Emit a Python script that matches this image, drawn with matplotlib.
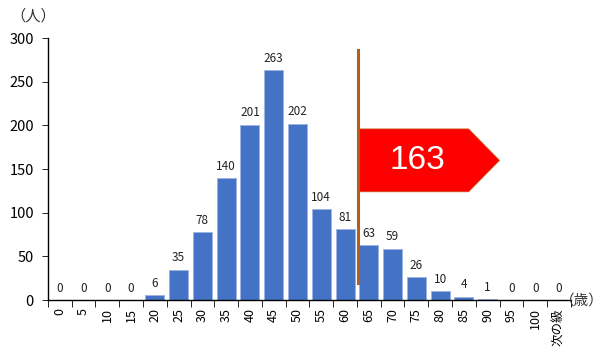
import matplotlib
matplotlib.use("Agg")
import matplotlib.pyplot as plt
from matplotlib.patches import Polygon
import numpy as np

plt.rcParams['font.family'] = ['Noto Sans CJK JP', 'DejaVu Sans']

# age classes (lower bound of each 5-year class) and head counts
classes = ['0', '5', '10', '15', '20', '25', '30', '35', '40', '45', '50',
           '55', '60', '65', '70', '75', '80', '85', '90', '95', '100', '次の級']
counts = [0, 0, 0, 0, 6, 35, 78, 140, 201, 263, 202,
          104, 81, 63, 59, 26, 10, 4, 1, 0, 0, 0]

marker_value = 163
marker_pos = 12.55   # between the 60 and 65 classes
marker_range = (20, 286)

fig = plt.figure(figsize=(6.06, 3.56), dpi=100)
ax = fig.add_axes([0.079, 0.157, 0.863, 0.736])

x = np.arange(len(classes))
ax.bar(x, counts, width=0.8, color='#4472C4', edgecolor='#9DB3E0', linewidth=0.6, zorder=2)
for xi, c in zip(x, counts):
    ax.text(xi, c + 6, str(c), ha='center', va='bottom', fontsize=8.5, color='#222222')

ax.set_xlim(-0.5, len(classes) - 0.5)
ax.set_ylim(0, 300)
ax.set_yticks(range(0, 301, 50))
ax.tick_params(axis='y', labelsize=10.5, length=4, width=0.6, pad=6)

ax.set_xticks(x)
ax.set_xticklabels(classes, rotation=90, fontsize=9)
ax.set_xticks(np.arange(-0.5, len(classes), 1), minor=True)
ax.tick_params(axis='x', which='major', length=0, pad=6)
ax.tick_params(axis='x', which='minor', length=5, width=0.6)

for s in ['top', 'right']:
    ax.spines[s].set_visible(False)
ax.spines['left'].set_linewidth(1.0)
ax.spines['bottom'].set_linewidth(1.0)

# vertical marker and the flag carrying its value
ax.plot([marker_pos, marker_pos], marker_range, color='#B0601E', lw=2.2, zorder=4, clip_on=False)
flag = Polygon([(marker_pos + 0.05, 196), (marker_pos + 4.65, 196), (marker_pos + 5.95, 160),
                (marker_pos + 4.65, 124), (marker_pos + 0.05, 124)],
               closed=True, facecolor='#FF0000', edgecolor='#C55A11', lw=0.5, zorder=3)
ax.add_patch(flag)
ax.text(marker_pos + 2.5, 160, str(marker_value), color='white', fontsize=24,
        ha='center', va='center', zorder=5, family=['Liberation Sans', 'DejaVu Sans'])

fig.text(0.055, 0.955, '（人）', fontsize=11, ha='center', va='center', color='#333333')
fig.text(0.997, 0.157, '（歳）', fontsize=10.5, ha='right', va='center', color='#333333')

fig.savefig('out.png', dpi=100)
